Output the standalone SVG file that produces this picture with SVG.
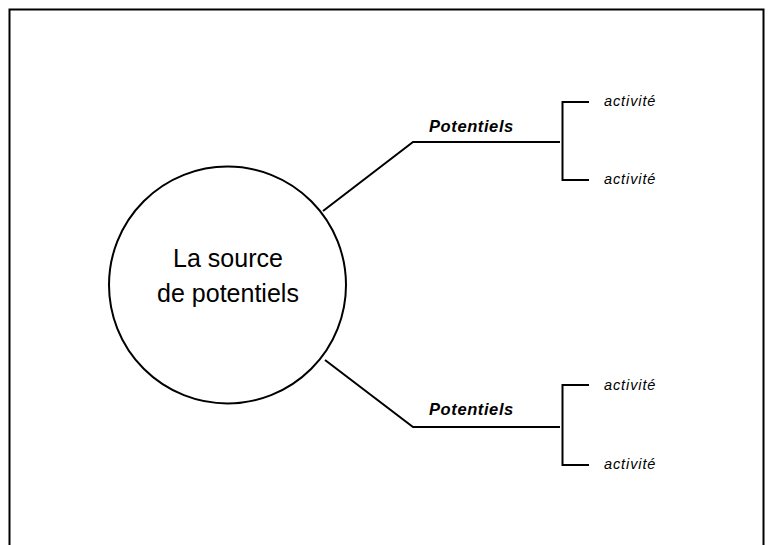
<svg xmlns="http://www.w3.org/2000/svg" width="773" height="545" viewBox="0 0 773 545">
<style>
.ln{fill:none;stroke:#000;stroke-width:2}
.pot{font-family:"Liberation Sans",Arial,sans-serif;font-size:16.5px;font-weight:bold;font-style:italic;letter-spacing:0.6px;fill:#000}
.act{font-family:"Liberation Sans",Arial,sans-serif;font-size:14.5px;font-style:italic;letter-spacing:0.9px;fill:#000}
.ctr{font-family:"Liberation Sans",Arial,sans-serif;font-size:25px;fill:#000;text-anchor:middle}
</style>
<rect width="773" height="545" fill="#fff"/>
<path class="ln" d="M9.5,545 V9.5 H763.5 V545"/>
<g id="source">
<circle class="ln" cx="227.5" cy="285" r="118.5"/>
<text class="ctr" x="228" y="267">La source</text>
<text class="ctr" x="228" y="302">de potentiels</text>
</g>
<g id="connectors">
<path class="ln" d="M323,211 L413,142 H560"/>
<path class="ln" d="M325,360 L413,427 H560"/>
<path class="ln" d="M589,102 H562.5 V180 H589"/>
<path class="ln" d="M589,385 H562.5 V465 H589"/>
</g>
<g id="potentiels1"><text class="pot" x="429" y="132">Potentiels</text></g>
<g id="potentiels2"><text class="pot" x="429" y="415">Potentiels</text></g>
<g id="act1"><text class="act" x="604" y="106">activité</text></g>
<g id="act2"><text class="act" x="604" y="184">activité</text></g>
<g id="act3"><text class="act" x="604" y="390">activité</text></g>
<g id="act4"><text class="act" x="604" y="469">activité</text></g>
</svg>
